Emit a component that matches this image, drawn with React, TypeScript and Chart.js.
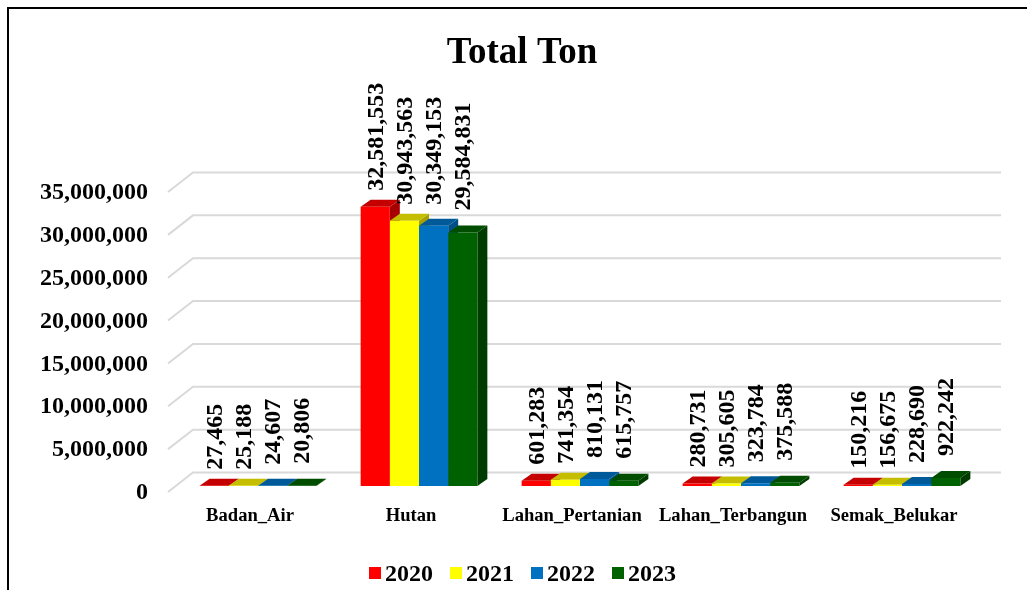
import React, { useEffect, useRef } from "react";
import { Chart, registerables } from "chart.js";

Chart.register(...registerables);

const categories = ["Badan_Air", "Hutan", "Lahan_Pertanian", "Lahan_Terbangun", "Semak_Belukar"];
const values2020 = [27465, 32581553, 601283, 280731, 150216];
const values2021 = [25188, 30943563, 741354, 305605, 156675];
const values2022 = [24607, 30349153, 810131, 323784, 228690];
const values2023 = [20806, 29584831, 615757, 375588, 922242];
const years = ["2020", "2021", "2022", "2023"];

const FONT = '"Liberation Serif"';
const fronts = ["#ff0000", "#ffff00", "#0070c0", "#006100"];
const tops = ["#c40000", "#c4bd00", "#005a9a", "#004d00"];
const sides = ["#a60000", "#a8a200", "#004f88", "#003c00"];
const labelLift = [16, 16, 21, 22];
const DX = 10;
const DY = 7;

const depthPlugin = {
  id: "depth",
  beforeDatasetsDraw(chart: any) {
    const { ctx, scales } = chart;
    const y = scales.y;
    ctx.save();
    // receding wall grid lines
    ctx.strokeStyle = "#d9d9d9";
    ctx.lineWidth = 2;
    y.ticks.forEach((_: any, i: number) => {
      const back = y.getPixelForTick(i) - 13.5;
      ctx.beginPath();
      ctx.moveTo(168, back + 19.5);
      ctx.lineTo(193, back);
      ctx.lineTo(1001, back);
      ctx.stroke();
    });
    // tops and right sides of the bars
    chart.data.labels.forEach((_: any, c: number) => {
      chart.data.datasets.forEach((_d: any, d: number) => {
        const bar = chart.getDatasetMeta(d).data[c];
        const l = bar.x - bar.width / 2;
        const r = bar.x + bar.width / 2;
        ctx.fillStyle = sides[d];
        ctx.beginPath();
        ctx.moveTo(r, bar.y);
        ctx.lineTo(r + DX, bar.y - DY);
        ctx.lineTo(r + DX, bar.base - DY);
        ctx.lineTo(r, bar.base);
        ctx.closePath();
        ctx.fill();
        ctx.fillStyle = tops[d];
        ctx.beginPath();
        ctx.moveTo(l, bar.y);
        ctx.lineTo(l + DX, bar.y - DY);
        ctx.lineTo(r + DX, bar.y - DY);
        ctx.lineTo(r, bar.y);
        ctx.closePath();
        ctx.fill();
      });
    });
    ctx.restore();
  },
  afterDatasetsDraw(chart: any) {
    const { ctx } = chart;
    ctx.save();
    ctx.fillStyle = "#000";
    ctx.font = `bold 24px ${FONT}`;
    ctx.textAlign = "left";
    ctx.textBaseline = "middle";
    chart.data.datasets.forEach((ds: any, d: number) => {
      chart.getDatasetMeta(d).data.forEach((bar: any, c: number) => {
        ctx.save();
        ctx.translate(bar.x + 1.5, bar.y - labelLift[d]);
        ctx.rotate(-Math.PI / 2);
        ctx.fillText(Number(ds.data[c]).toLocaleString("en-US"), 0, 0);
        ctx.restore();
      });
    });
    // legend
    chart.data.datasets.forEach((ds: any, d: number) => {
      const x = 369 + d * 81;
      ctx.fillStyle = fronts[d];
      ctx.fillRect(x, 567, 12, 12);
      ctx.fillStyle = "#000";
      ctx.fillText(ds.label, x + 16, 574.5);
    });
    ctx.restore();
  },
};

export default function App() {
  const ref = useRef<HTMLCanvasElement>(null);
  useEffect(() => {
    document.body.style.margin = "0";
    document.body.style.overflow = "hidden";
    const chart = new Chart(ref.current as HTMLCanvasElement, {
      type: "bar",
      data: {
        labels: categories,
        datasets: [values2020, values2021, values2022, values2023].map((data, i) => ({
          label: years[i],
          data,
          backgroundColor: fronts[i],
          borderWidth: 0,
          barPercentage: 1,
          categoryPercentage: 0.725,
        })),
      },
      options: {
        animation: false,
        responsive: false,
        events: [],
        layout: { padding: { left: 20, right: 3, top: 0, bottom: 0 } },
        plugins: {
          legend: { display: false },
          tooltip: { enabled: false },
          title: {
            display: true,
            text: "Total Ton",
            color: "#000",
            font: { family: FONT, size: 37, weight: "bold" },
            padding: { top: 30.8, bottom: 110.8 },
          },
        },
        scales: {
          x: {
            grid: { display: false, drawTicks: false },
            border: { display: false },
            afterFit: (s: any) => { s.height = 104; },
            ticks: {
              color: "#000",
              font: { family: FONT, size: 18.6, weight: "bold" },
              padding: 19,
              labelOffset: -8,
              maxRotation: 0,
              autoSkip: false,
            },
          },
          y: {
            min: 0,
            max: 35000000,
            grid: { display: false, drawTicks: false },
            border: { display: false },
            afterFit: (s: any) => { s.width = 157.5; },
            ticks: {
              stepSize: 5000000,
              color: "#000",
              font: { family: FONT, size: 24, weight: "bold" },
              padding: 29.5,
              labelOffset: 7,
              callback: (v: any) => Number(v).toLocaleString("en-US"),
            },
          },
          rightGutter: {
            position: "right",
            grid: { display: false, drawTicks: false },
            border: { display: false },
            ticks: { display: false },
            afterFit: (s: any) => { s.width = 41.5; },
          },
        },
      },
      plugins: [depthPlugin],
    } as any);
    return () => chart.destroy();
  }, []);
  return (
    <div style={{ position: "fixed", left: 0, top: 0, width: 1027, height: 590, background: "#fff", overflow: "hidden" }}>
      <canvas ref={ref} width={1027} height={590} style={{ position: "absolute", left: 0, top: 0, display: "block" }} />
      <div style={{ position: "absolute", left: 7, top: 7, width: 1030, height: 600, borderLeft: "2px solid #000", borderTop: "2px solid #000" }} />
    </div>
  );
}
